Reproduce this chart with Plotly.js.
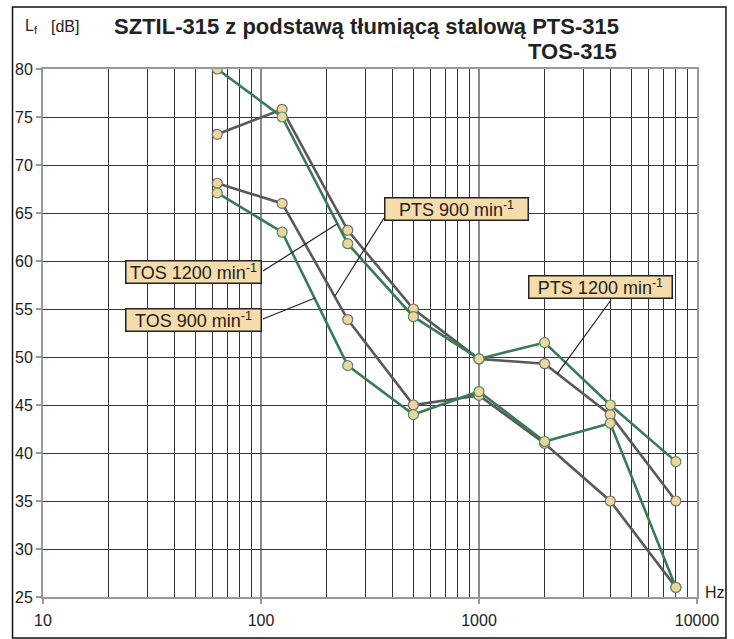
<!DOCTYPE html>
<html>
<head>
<meta charset="utf-8">
<script src="https://cdn.plot.ly/plotly-3.0.1.min.js"></script>
<style>html,body{margin:0;padding:0;background:#fff;}#chart{width:734px;height:639px;}</style>
</head>
<body>
<div id="chart"></div>
<script>
// Frequencies (Hz)
const freqs = [63, 125, 250, 500, 1000, 2000, 4000, 8000];
// Levels Lf [dB]
const pts1200 = [73.2, 75.8, 63.2, 55.0, 49.8, 49.3, 44.0, 35.0];
const pts900  = [68.1, 66.0, 53.9, 45.0, 46.0, 41.0, 35.0, 26.0];
const tos1200 = [80.0, 75.0, 61.8, 54.2, 49.8, 51.5, 45.0, 39.1];
const tos900  = [67.1, 63.0, 49.1, 44.0, 46.4, 41.2, 43.1, 26.0];
const seriesNames = ['PTS 1200 min<sup>-1</sup>', 'PTS 900 min<sup>-1</sup>', 'TOS 1200 min<sup>-1</sup>', 'TOS 900 min<sup>-1</sup>'];
// Axis ticks
const xTickVals = [10, 100, 1000, 10000];
const xTickText = ['10', '100', '1000', '10000'];
const yTickVals = [25, 30, 35, 40, 45, 50, 55, 60, 65, 70, 75, 80];
const yTickText = ['25', '30', '35', '40', '45', '50', '55', '60', '65', '70', '75', '80'];
const titleLine1 = 'SZTIL-315 z podstawą tłumiącą stalową PTS-315';
const titleLine2 = 'TOS-315';

const minorVals = [];
[10, 100, 1000].forEach(function (d) { for (let k = 2; k <= 9; k++) minorVals.push(k * d); });

const GRAY = '#595959', GREEN = '#3b7a56', FILL = '#efd69c';
function tr(y, color, outline) {
  return {
    x: freqs, y: y, type: 'scatter', mode: 'lines+markers',
    line: {color: color, width: 2.6},
    marker: {size: 10, color: FILL, line: {color: outline, width: 1.2}},
    hoverinfo: 'x+y'
  };
}
const data = [
  tr(pts1200, GRAY, '#6e6e6e'),
  tr(pts900, GRAY, '#6e6e6e'),
  tr(tos1200, GREEN, '#4f8c66'),
  tr(tos900, GREEN, '#4f8c66')
];

const FONT = 'Liberation Sans, Arial, sans-serif';
function box(text, x, y, w) {
  return {
    text: text, xref: 'paper', yref: 'paper', x: x, y: y, xanchor: 'center', yanchor: 'middle',
    showarrow: false, bgcolor: '#f5dcaa', bordercolor: '#222', borderwidth: 1.5, borderpad: 1,
    width: w, height: 19, font: {family: FONT, size: 18, color: '#222'}
  };
}
function leader(x0, y0, x1, y1) {
  return {type: 'line', xref: 'paper', yref: 'paper', x0: x0, y0: y0, x1: x1, y1: y1,
          line: {color: '#222', width: 1.2}};
}

const layout = {
  width: 734, height: 639,
  margin: {l: 43, r: 37, t: 69, b: 42},
  paper_bgcolor: '#fff', plot_bgcolor: '#fff',
  showlegend: false,
  font: {family: FONT, size: 16, color: '#222'},
  title: {
    text: '<b>' + titleLine1 + '</b>',
    font: {family: FONT, size: 22, color: '#222'},
    xref: 'paper', x: 0.8807, xanchor: 'right',
    yref: 'container', y: 0.9595, yanchor: 'middle'
  },
  xaxis: {
    type: 'log', range: [1, 4],
    tickmode: 'array', tickvals: xTickVals, ticktext: xTickText,
    ticks: 'outside', ticklen: 5, tickcolor: '#999', tickwidth: 1.5,
    ticklabelstandoff: 3,
    showgrid: true, gridcolor: '#8c8c8c', gridwidth: 1.5,
    minor: {tickmode: 'array', tickvals: minorVals, showgrid: true, gridcolor: '#333', gridwidth: 1, ticks: ''},
    showline: true, linecolor: '#999', linewidth: 2, mirror: true,
    zeroline: false,
    tickfont: {family: FONT, size: 16, color: '#222'}
  },
  yaxis: {
    range: [25, 80],
    tickmode: 'array', tickvals: yTickVals, ticktext: yTickText,
    ticks: 'outside', ticklen: 5, tickcolor: '#999', tickwidth: 1.5,
    showgrid: true, gridcolor: '#3a3a3a', gridwidth: 1,
    showline: true, linecolor: '#999', linewidth: 2, mirror: true,
    zeroline: false,
    tickfont: {family: FONT, size: 16, color: '#222'}
  },
  annotations: [
    {text: '<b>' + titleLine2 + '</b>', xref: 'paper', yref: 'paper', x: 0.8807, y: 1.033, xanchor: 'right', yanchor: 'middle', showarrow: false, font: {family: FONT, size: 22, color: '#222'}},
    box(seriesNames[2], 0.2294, 0.6146, 132),
    box(seriesNames[3], 0.2294, 0.5246, 132),
    box(seriesNames[1], 0.6330, 0.7348, 140),
    box(seriesNames[0], 0.8517, 0.5862, 140),
    {text: 'L<sub>f</sub>', xref: 'paper', yref: 'paper', x: -0.031, y: 1.08, xanchor: 'left', yanchor: 'middle', showarrow: false, font: {family: FONT, size: 16, color: '#222'}},
    {text: '[dB]', xref: 'paper', yref: 'paper', x: 0.009, y: 1.08, xanchor: 'left', yanchor: 'middle', showarrow: false, font: {family: FONT, size: 16, color: '#222'}},
    {text: 'Hz', xref: 'paper', yref: 'paper', x: 1.009, y: 0.0076, xanchor: 'left', yanchor: 'middle', showarrow: false, font: {family: FONT, size: 16, color: '#222'}}
  ],
  shapes: [
    leader(0.5214, 0.7178, 0.4465, 0.5701),
    leader(0.3364, 0.5265, 0.4159, 0.5663),
    leader(0.3364, 0.6174, 0.4495, 0.7064),
    leader(0.8685, 0.5625, 0.7859, 0.4223),
    {type: 'rect', xref: 'paper', yref: 'paper', x0: -0.0466, x1: 1.0443, y0: -0.0777, y1: 1.1174,
     line: {color: '#111', width: 1.5}, fillcolor: 'rgba(0,0,0,0)', layer: 'below'}
  ]
};

Plotly.newPlot('chart', data, layout, {displayModeBar: false, staticPlot: true});
</script>
</body>
</html>
